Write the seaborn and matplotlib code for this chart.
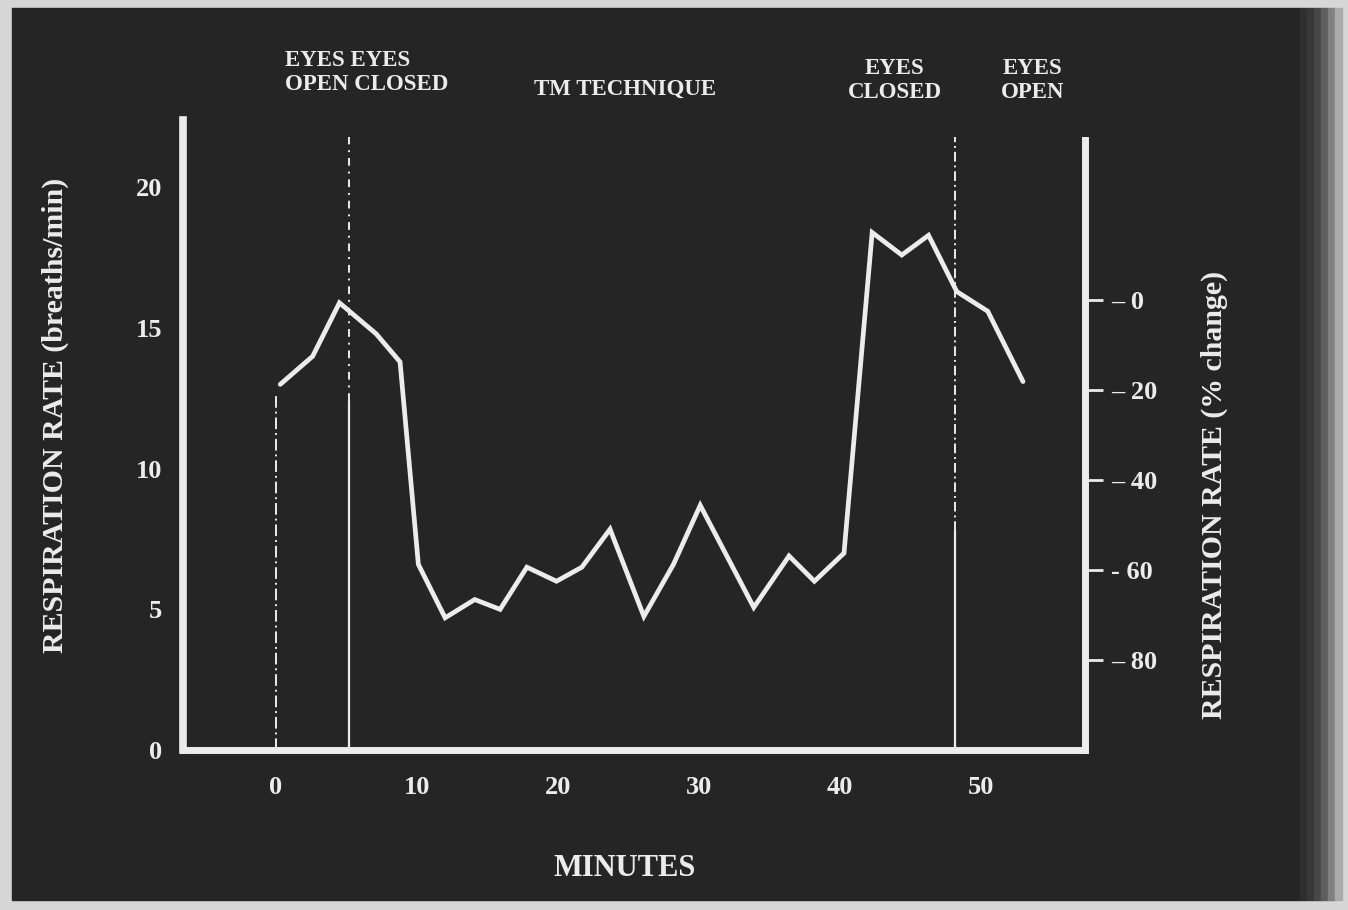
import numpy as np
import pandas as pd
import matplotlib
matplotlib.use("Agg")
import matplotlib.pyplot as plt
from matplotlib.patches import Rectangle
import seaborn as sns

# Respiration rate over the session
minutes = [0.3, 2.6, 4.5, 7.1, 8.8, 10.1, 12.0, 14.1, 15.9, 17.8, 19.9, 21.7, 23.7,
           26.1, 28.2, 30.1, 33.9, 36.4, 38.2, 40.3, 42.3, 44.4, 46.3, 48.3, 50.5, 53.0]
rate = [13.0, 14.0, 15.9, 14.8, 13.8, 6.6, 4.7, 5.35, 5.0, 6.5, 6.0, 6.5, 7.85,
        4.75, 6.6, 8.7, 5.07, 6.9, 6.0, 7.0, 18.4, 17.6, 18.3, 16.3, 15.6, 13.1]

baseline = 16.0  # breaths/min taken as 0 % change
x_ticks = [0, 10, 20, 30, 40, 50]
y_ticks = [0, 5, 10, 15, 20]
pct_ticks = [0, -20, -40, -60, -80]
pct_labels = ["\u2013 0", "\u2013 20", "\u2013 40", "- 60", "\u2013 80"]

# phase markers: (x, y from, y to, style)
markers = [(0.0, 0.0, 12.6, (0, (6, 2, 1, 2))),
           (5.2, 0.0, 12.4, "-"),
           (5.2, 12.4, 21.8, (0, (4, 3, 1, 3))),
           (48.2, 0.0, 7.8, "-"),
           (48.2, 7.8, 21.8, (0, (5, 2, 1, 2)))]

phase_text = [(285, 60, "EYES EYES", "left"), (285, 84, "OPEN CLOSED", "left"),
              (625, 89, "TM TECHNIQUE", "center"),
              (895, 69, "EYES", "center"), (895, 92, "CLOSED", "center"),
              (1033, 69, "EYES", "center"), (1033, 92, "OPEN", "center")]

bg = "#252525"
fg = "#ececec"
paper = "#d6d6d6"
sns.set_style("dark", {"axes.facecolor": bg, "figure.facecolor": paper})
plt.rcParams["font.family"] = ["Liberation Serif", "DejaVu Serif"]
plt.rcParams["font.weight"] = "bold"

W, H = 1348, 910
fig = plt.figure(figsize=(W / 100, H / 100), dpi=100)

# dark photo area on light paper, fading out at the right edge
fig.patches.append(Rectangle((12 / W, 1 - 900 / H), (1300 - 12) / W, (900 - 8) / H,
                             transform=fig.transFigure, color=bg, zorder=-10))
for i, c in enumerate(["#2e2e2e", "#383838", "#474747", "#5e5e5e", "#808080", "#aaaaaa"]):
    x0 = (1300 + i * 7) / W
    fig.patches.append(Rectangle((x0, 1 - 900 / H), 7 / W, (900 - 8) / H,
                                 transform=fig.transFigure, color=c, zorder=-10))

ax = fig.add_axes([183 / W, 1 - 750 / H, (1085 - 183) / W, (750 - 120) / H])
ax.set_facecolor(bg)

df = pd.DataFrame({"minutes": minutes, "rate": rate})
sns.lineplot(data=df, x="minutes", y="rate", ax=ax, color=fg, linewidth=3.4,
             solid_joinstyle="miter", zorder=3)

for x, y0, y1, ls in markers:
    ax.plot([x, x], [y0, y1], color=fg, linewidth=1.6 if ls == "-" else 1.4,
            linestyle=ls, zorder=2)

ax.set_xlim(-6.6, 57.4)
ax.set_ylim(0, 22.4)
ax.set_xticks(x_ticks)
ax.set_yticks(y_ticks)
ax.set_xticklabels([str(t) for t in x_ticks], fontsize=19, color=fg, fontweight="bold")
ax.set_yticklabels([str(t) for t in y_ticks], fontsize=19, color=fg, fontweight="bold")
ax.tick_params(axis="x", direction="out", length=14, width=2.5, color=fg, pad=5)
ax.tick_params(axis="y", direction="out", length=9, width=2.0, color=fg, pad=6)
ax.grid(False)
ax.set_xlabel("")
ax.set_ylabel("")

for side in ["left", "bottom", "right"]:
    ax.spines[side].set_visible(True)
    ax.spines[side].set_color(fg)
ax.spines["left"].set_linewidth(5.5)
ax.spines["bottom"].set_linewidth(5.0)
ax.spines["right"].set_linewidth(5.0)
ax.spines["right"].set_bounds(0, 21.7)
ax.spines["top"].set_visible(False)

sec = ax.secondary_yaxis("right",
                         functions=(lambda v: (v / baseline - 1) * 100,
                                    lambda p: baseline * (1 + p / 100)))
sec.set_yticks(pct_ticks)
sec.set_yticklabels(pct_labels, fontsize=19, color=fg, fontweight="bold")
sec.tick_params(axis="y", direction="out", length=13, width=2.0, color=fg, pad=6)
sec.spines["right"].set_visible(False)

fig.text(55 / W, 1 - 415 / H, "RESPIRATION RATE (breaths/min)", rotation=90,
         ha="center", va="center", fontsize=21.5, color=fg, fontweight="bold")
fig.text(1214 / W, 1 - 495 / H, "RESPIRATION RATE (% change)", rotation=90,
         ha="center", va="center", fontsize=21.5, color=fg, fontweight="bold")
fig.text(625 / W, 1 - 868 / H, "MINUTES", ha="center", va="center",
         fontsize=22, color=fg, fontweight="bold")
for px, py, s, ha in phase_text:
    fig.text(px / W, 1 - py / H, s, ha=ha, va="center", fontsize=16.5,
             color=fg, fontweight="bold")

fig.savefig("out.png", dpi=100, facecolor=paper)
